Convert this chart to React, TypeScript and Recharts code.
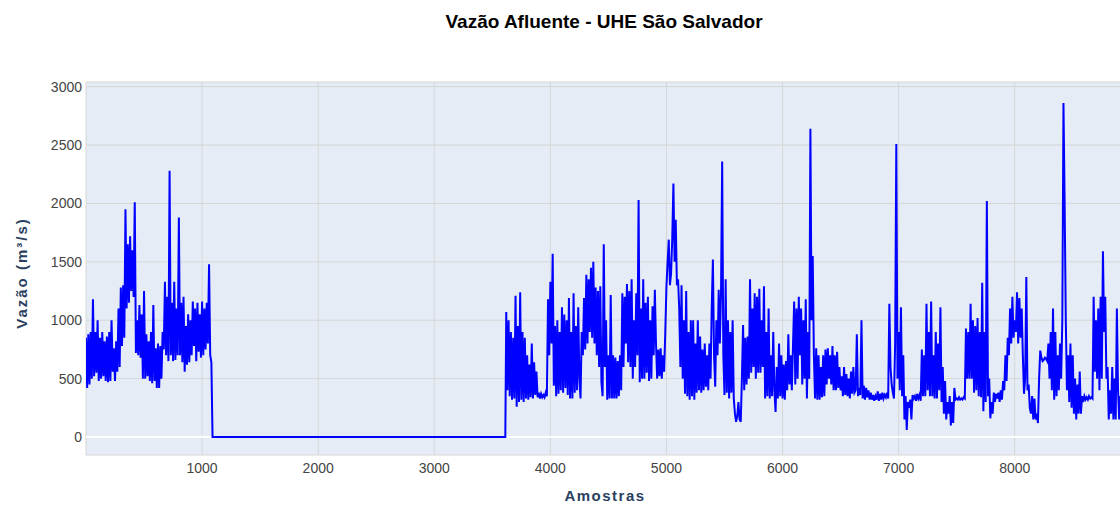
import React from "react";
import { LineChart, Line, XAxis, YAxis, CartesianGrid, ReferenceLine } from "recharts";

const TITLE = "Vazão Afluente - UHE São Salvador";
const X_TITLE = "Amostras";
const Y_TITLE = "Vazão (m³/s)";
const X_TICKS = [1000, 2000, 3000, 4000, 5000, 6000, 7000, 8000];
const Y_TICKS = [0, 500, 1000, 1500, 2000, 2500, 3000];

const STEP = 10;
const SEG_A_START = 0;
const segA = [
  850, 420, 880, 450, 900, 500, 1180, 520, 900, 550,
  1000, 480, 850, 500, 900, 520, 820, 480, 860, 470,
  900, 480, 1000, 560, 760, 480, 820, 560, 1100, 600,
  1280, 780, 1300, 850, 1950, 1100, 1650, 1150, 1720, 1250,
  1600, 1200, 2010, 720, 1000, 700, 1130, 680, 1050, 500,
  1250, 500, 880, 520, 820, 480, 900, 460, 1130, 480,
  760, 420, 800, 420, 780, 500, 900, 750, 1330, 700,
  1200, 650, 2280, 700, 1150, 650, 1330, 660, 1100, 700,
  1880, 700, 1150, 640, 1200, 560, 950, 620, 1050, 640,
  1000, 700, 1160, 780, 1100, 650, 1150, 730, 1050, 680,
  1160, 700, 1100, 750, 1150, 800, 1480, 700, 640,
];
const GAP_START = 1090;
const GAP_END = 3612;
const SEG_B_START = 3620;
const segB = [
  // 3620 -
  1070, 400, 1000, 350, 900, 320, 850, 330, 1210, 260,
  950, 300, 1240, 320, 900, 300, 850, 330, 700, 320,
  620, 340, 800, 330, 640, 360, 560, 340, 380, 330,
  370, 340, 360, 340, 380, 350, 1180, 700, 1330, 800,
  1570, 440, 950, 350, 1000, 370, 900, 400, 1110, 380,
  1050, 420, 1000, 360, 1190, 330, 900, 330, 1230, 380,
  950, 400, 1110,
  // 4250 -
  500, 330, 900, 700, 1190, 750, 1390, 800, 1350, 900,
  1450, 850, 1500, 800, 1280, 700, 1250, 600, 1290, 470,
  350, 1650, 600, 1000, 320, 700, 330, 1216, 330, 700,
  330, 680, 330, 650, 350, 700, 400, 1230, 600, 1200,
  800, 1310, 640, 1250, 600, 1350, 500, 1000, 600, 1230,
  700, 2030, 470, 1100, 500, 1350, 500, 1150, 550, 1200,
  480, 1000, 500, 1120, 700, 1260, 800, 500,
  // 4930 -
  750, 520, 760, 500, 700, 560, 900, 1290, 1500, 1690,
  1300, 1400, 1700, 2170, 1500, 1860, 1300, 1350, 1100, 600,
  1300, 500, 1000, 370, 1250, 350, 900, 320, 1000, 350,
  1000, 320, 800, 380, 1000, 400, 860, 380, 750, 400,
  800, 430, 700, 400, 800, 500, 1100, 1520, 700, 430,
  1000, 700, 1260, 800, 1230, 2360, 700, 360, 1350, 380,
  1000, 330, 900, 380, 1000, 330, 200, 130,
  // 5610 -
  180, 300, 150, 130, 500, 960, 400, 850, 450, 860,
  500, 1350, 550, 1100, 600, 1230, 500, 1200, 550, 1270,
  550, 1000, 600, 1290, 330, 900, 350, 1100, 330, 700,
  350, 900, 400, 214, 600, 330, 800, 350, 700, 330,
  620, 320, 650, 400, 880, 450, 700, 400, 780, 1160,
  450, 1100, 500, 1200, 700, 1100, 450, 1000, 500, 1180,
  330, 900, 500, 2640, 1000, 1550,
  // 6270 -
  700, 330, 760, 320, 700, 320, 600, 340, 700, 350,
  750, 450, 760, 500, 700, 450, 780, 400, 700, 400,
  730, 420, 600, 400, 520, 350, 600, 360, 540, 350,
  500, 330, 560, 370, 600, 380, 400, 880, 350, 420,
  360, 1000, 330, 440, 320, 420, 340, 400, 320, 380,
  320, 360, 310, 350, 320, 390, 310, 370, 320, 380,
  330, 360, 340, 380, 330, 1140, 600, 450,
  // 6950 -
  380, 330, 800, 2510, 500, 900, 400, 1110, 350, 700,
  150, 350, 60, 300, 250, 320, 150, 360, 330, 350,
  310, 370, 330, 360, 310, 750, 350, 700, 350, 1140,
  400, 900, 350, 1160, 350, 700, 330, 900, 330, 800,
  400, 1110, 300, 600, 200, 480, 150, 300, 200, 350,
  100, 300, 120, 420, 320, 330, 320, 340, 320, 330,
  320, 340, 330, 930, 500, 900, 500, 1140,
  // 7630 -
  500, 1000, 380, 950, 400, 1020, 350, 900, 340, 1320,
  220, 900, 300, 2020, 350, 500, 160, 300, 200, 380,
  300, 370, 330, 380, 300, 400, 320, 480, 400, 700,
  480, 850, 700, 1100, 800, 1200, 850, 1000, 900, 1240,
  800, 1190, 850, 1100, 700, 370, 500, 1370, 400, 450,
  250, 200, 350, 150, 330, 150, 200, 120, 500, 740,
  680, 650, 660, 680, 670, 650,
  // 8290 -
  800, 500, 900, 400, 1100, 320, 900, 350, 700, 400,
  800, 500, 1000, 2860, 2000, 1000, 400, 700, 300, 800,
  250, 700, 200, 500, 150, 450, 200, 560, 200, 350,
  300, 350, 320, 340, 320, 350, 330, 340, 330, 1200,
  560, 1000, 500, 1100, 400, 1200, 500, 1590, 900, 1200,
  500, 600, 150, 400, 200, 600, 150, 500, 150, 1100,
  400, 150, 350, 150, 300, 300,
];

const data: { x: number; y: number }[] = [];
segA.forEach((v, i) => data.push({ x: SEG_A_START + i * STEP, y: v }));
data.push({ x: GAP_START, y: 0 });
data.push({ x: GAP_END, y: 0 });
segB.forEach((v, i) => data.push({ x: SEG_B_START + i * STEP, y: v }));

const FONT = "'Liberation Sans', Arial, sans-serif";

export default function App() {
  return (
    <div
      style={{
        position: "absolute",
        left: 0,
        top: 0,
        width: 1120,
        height: 507,
        overflow: "hidden",
        background: "#ffffff",
        fontFamily: FONT,
      }}
    >
      <LineChart
        width={1145}
        height={507}
        data={data}
        margin={{ top: 82, right: 20, bottom: 22, left: 0 }}
      >
        <CartesianGrid
          fill="#E5ECF6"
          stroke="#d6d6d6"
          strokeWidth={1}
          horizontal={true}
          vertical={true}
        />
        <XAxis
          dataKey="x"
          type="number"
          domain={[0, 8950]}
          ticks={X_TICKS}
          allowDataOverflow={true}
          axisLine={false}
          tickLine={false}
          height={30}
          tick={{ fill: "#444", fontSize: 14, fontFamily: FONT }}
        />
        <YAxis
          type="number"
          domain={[-154, 3040]}
          ticks={Y_TICKS}
          allowDataOverflow={true}
          axisLine={false}
          tickLine={false}
          width={86}
          tickSize={2}
          tickMargin={2}
          tick={{ fill: "#444", fontSize: 14, fontFamily: FONT }}
        />
        <ReferenceLine y={0} stroke="#ffffff" strokeWidth={2} />
        <Line
          type="linear"
          dataKey="y"
          stroke="#0000ff"
          strokeWidth={2}
          dot={false}
          activeDot={false}
          isAnimationActive={false}
        />
      </LineChart>
      <svg
        width={1120}
        height={507}
        style={{ position: "absolute", left: 0, top: 0, pointerEvents: "none" }}
      >
        <text
          x={604}
          y={28}
          textAnchor="middle"
          fontFamily={FONT}
          fontWeight="bold"
          fontSize={19}
          fill="#000"
        >
          {TITLE}
        </text>
        <text
          x={605}
          y={501}
          textAnchor="middle"
          fontFamily={FONT}
          fontWeight="bold"
          fontSize={15}
          letterSpacing={1.5}
          fill="#2a3f5f"
        >
          {X_TITLE}
        </text>
        <text
          x={27}
          y={273}
          transform="rotate(-90, 27, 273)"
          textAnchor="middle"
          fontFamily={FONT}
          fontWeight="bold"
          fontSize={15}
          letterSpacing={2}
          fill="#2a3f5f"
        >
          {Y_TITLE}
        </text>
      </svg>
    </div>
  );
}
